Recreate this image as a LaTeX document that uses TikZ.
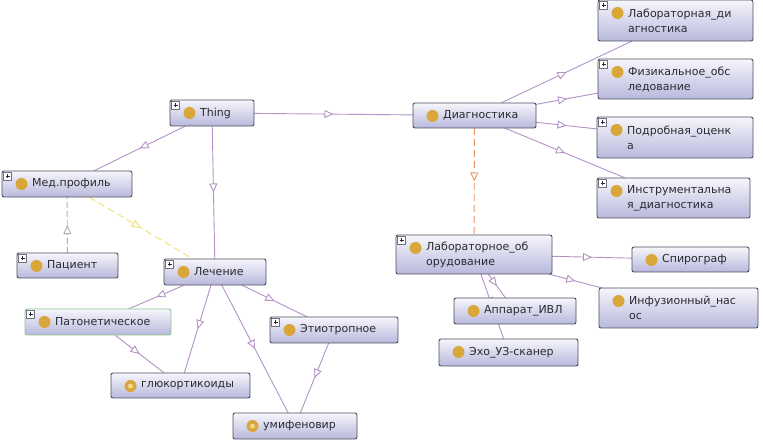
\documentclass[tikz,border=0pt]{standalone}
\usepackage{fontspec}
\setmainfont{DejaVu Sans}
\usetikzlibrary{arrows.meta,decorations.markings}
\pgfdeclarelayer{background}
\pgfsetlayers{background,main}
\definecolor{edgeP}{HTML}{B592C6}
\definecolor{edgeY}{HTML}{F2DE6E}
\definecolor{edgeO}{HTML}{EA9468}
\definecolor{edgeG}{HTML}{B0B0B0}
\definecolor{boxborder}{HTML}{4C4C60}
\definecolor{boxgreen}{HTML}{8CC88C}
\definecolor{boxtop}{HTML}{F6F6FC}
\definecolor{boxbot}{HTML}{B8B8DC}
\definecolor{gold}{HTML}{D9A63A}
\definecolor{goldlight}{HTML}{F3DA90}
\definecolor{txt}{HTML}{2A2A32}
\tikzset{
  obox/.style={draw=boxborder, line width=0.9pt, rounded corners=2pt,
    top color=boxtop, bottom color=boxbot, inner sep=0pt, outer sep=0pt},
  olabel/.style={anchor=west, inner sep=0pt, align=left,
    font=\fontsize{11}{15}\selectfont, text=txt},
  isa/.style={draw=edgeP, line width=0.9pt, postaction={decorate},
    decoration={markings, mark=at position 0.5 with
      {\arrow{Triangle[length=9pt,width=8pt,fill=white]}}}},
  dashyellow/.style={isa, draw=edgeY, dash pattern=on 7pt off 4pt},
  dashorange/.style={isa, draw=edgeO, dash pattern=on 7pt off 4pt},
  dashgray/.style={isa, draw=edgeG, dash pattern=on 6pt off 3pt},
  pboxst/.style={draw=boxborder!80, fill=white, line width=0.5pt},
}
% #1 name, #2 x1, #3 y1, #4 x2, #5 y2, #6 text, #7 box options
\newcommand\onto[7]{%
  \node[obox, #7, minimum width={(#4-#2)*1pt}, minimum height={(#5-#3)*1pt}]
    (#1) at ({(#2+#4)/2},{(#3+#5)/2}) {};
  \node[olabel] (#1-t) at ({#2+30},{(#3+#5)/2}) {#6};
  \fill[gold] ({#2+19.5},{#3+13}) circle (6pt);
}
\newcommand\plusbox[1]{%
  \draw[pboxst] ([xshift=1.5pt,yshift=-1.5pt]#1.north west) rectangle ++(8,8);
  \draw[line width=0.7pt, txt] ([xshift=3.5pt,yshift=-5.5pt]#1.north west) -- ++(4,0)
    ([xshift=5.5pt,yshift=-3.5pt]#1.north west) -- ++(0,4);
}
\newcommand\indiv[1]{%
  \fill[goldlight, rounded corners=0.8pt] ([xshift=17.3pt,yshift=-10.8pt]#1.north west) rectangle ++(4.4,4.4);
}
\begin{document}
\begin{tikzpicture}[x=1pt,y=-1pt]
\useasboundingbox (0,0) rectangle (763,443);

\onto{thing}{170}{100}{254}{126}{Thing}{}
\onto{med}{2}{171}{132}{197}{Мед.профиль}{}
\onto{pac}{17}{253}{118}{278}{Пациент}{}
\onto{lech}{164}{259}{266}{285}{Лечение}{}
\onto{pat}{25}{309}{171}{335}{Патонетическое}{draw=boxgreen}
\onto{glu}{111}{373}{250}{398}{глюкортикоиды}{}
\onto{etio}{270}{317}{398}{343}{Этиотропное}{}
\onto{umi}{233}{413}{357}{439}{умифеновир}{}
\onto{diag}{413}{103}{536}{128}{Диагностика}{}
\onto{labd}{598}{0}{753}{41}{Лабораторная\_ди\\агностика}{}
\onto{fiz}{598}{59}{753}{99}{Физикальное\_обс\\ледование}{}
\onto{podr}{597}{117}{753}{158}{Подробная\_оценк\\а}{}
\onto{instr}{597}{178}{750}{218}{Инструментальна\\я\_диагностика}{}
\onto{labo}{396}{235}{552}{274}{Лабораторное\_об\\орудование}{}
\onto{spir}{632}{247}{749}{272}{Спирограф}{}
\onto{infu}{599}{288}{758}{328}{Инфузионный\_нас\\ос}{}
\onto{ivl}{454}{298}{576}{324}{Аппарат\_ИВЛ}{}
\onto{echo}{439}{339}{578}{366}{Эхо\_УЗ-сканер}{}

\foreach \n in {thing,med,pac,lech,pat,etio,labd,fiz,podr,instr,labo}{\plusbox{\n}}
\indiv{glu}
\indiv{umi}

\begin{pgfonlayer}{background}
\fill[white] (0,0) rectangle (763,443);
\draw[isa] (thing) -- (med);
\draw[isa] (thing) -- (diag);
\draw[isa] (thing) -- (lech);
\draw[dashgray] (pac) -- (med);
\draw[dashyellow] (med) -- (lech);
\draw[isa] (lech) -- (pat);
\draw[isa] (lech) -- (glu);
\draw[isa] (pat) -- (glu);
\draw[isa] (lech) -- (umi);
\draw[isa] (lech) -- (etio);
\draw[isa] (etio) -- (umi);
\draw[isa] (diag) -- (labd);
\draw[isa] (diag) -- (fiz);
\draw[isa] (diag) -- (podr);
\draw[isa] (diag) -- (instr);
\draw[dashorange] (diag) -- (labo);
\draw[isa] (labo) -- (spir);
\draw[isa] (labo) -- (infu);
\draw[isa] (labo) -- (ivl);
\draw[isa] (labo) -- (echo);
\end{pgfonlayer}
\end{tikzpicture}
\end{document}
